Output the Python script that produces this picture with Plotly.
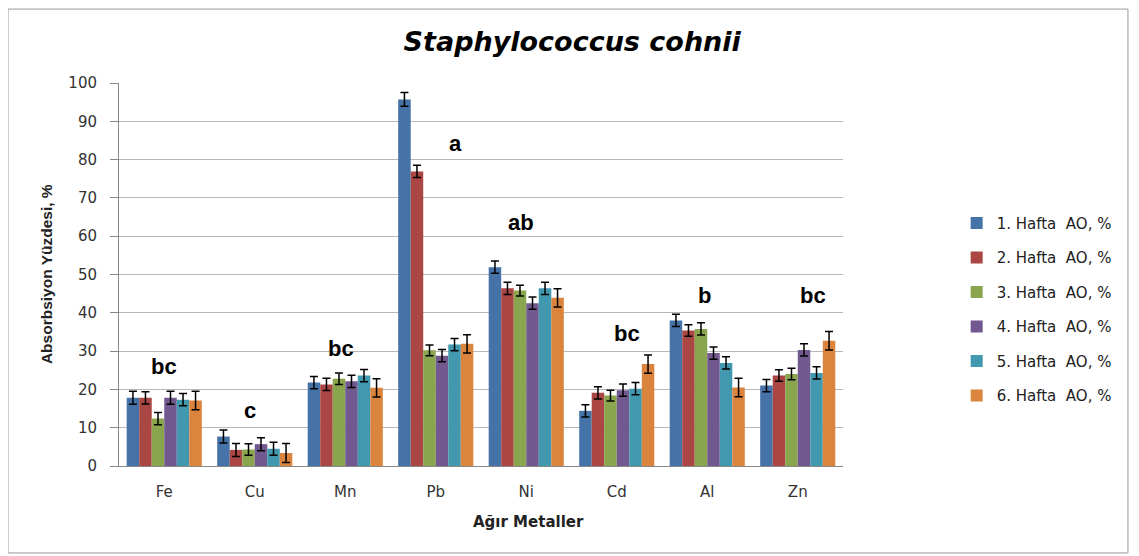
import plotly.graph_objects as go

categories = ["Fe", "Cu", "Mn", "Pb", "Ni", "Cd", "Al", "Zn"]
series_names = ["1. Hafta  AO, %", "2. Hafta  AO, %", "3. Hafta  AO, %",
                "4. Hafta  AO, %", "5. Hafta  AO, %", "6. Hafta  AO, %"]
week1 = [17.8, 7.7, 21.8, 95.7, 51.9, 14.4, 38.0, 21.0]
week2 = [17.8, 4.2, 21.3, 76.9, 46.4, 19.1, 35.4, 23.6]
week3 = [12.4, 4.3, 22.8, 30.2, 45.8, 18.4, 35.8, 24.0]
week4 = [17.8, 5.7, 22.1, 28.8, 42.5, 19.8, 29.5, 30.3]
week5 = [17.3, 4.5, 23.6, 31.7, 46.4, 20.2, 26.9, 24.3]
week6 = [17.1, 3.4, 20.4, 31.9, 43.9, 26.6, 20.5, 32.7]
err1 = [1.7, 1.7, 1.6, 1.8, 1.6, 1.6, 1.6, 1.6]
err2 = [1.6, 1.7, 1.6, 1.6, 1.6, 1.6, 1.5, 1.5]
err3 = [1.6, 1.5, 1.5, 1.4, 1.4, 1.4, 1.6, 1.5]
err4 = [1.7, 1.7, 1.6, 1.6, 1.6, 1.6, 1.6, 1.6]
err5 = [1.6, 1.7, 1.6, 1.6, 1.6, 1.6, 1.6, 1.6]
err6 = [2.4, 2.5, 2.4, 2.4, 2.4, 2.4, 2.4, 2.4]
colors = ["#4572A7", "#AA4643", "#89A54E", "#71588F", "#4198AF", "#DB843D"]

letters = ["bc", "c", "bc", "a", "ab", "bc", "b", "bc"]
letter_y = [26.1, 14.6, 30.8, 84.3, 63.7, 34.5, 44.4, 44.4]
letter_dx = [0, -5, -4, 20, -5, 10, -3, 15]

values = [week1, week2, week3, week4, week5, week6]
errors = [err1, err2, err3, err4, err5, err6]

fig = go.Figure()
for i, (name, vals, errs, col) in enumerate(zip(series_names, values, errors, colors)):
    fig.add_trace(go.Bar(
        x=categories, y=vals, name=name, legendgroup="g%d" % i,
        marker=dict(color=col, line=dict(width=0)),
        error_y=dict(type="data", array=errs, visible=True,
                     color="black", thickness=1.5, width=4),
    ))

for cat, txt, ly, dx in zip(categories, letters, letter_y, letter_dx):
    fig.add_annotation(x=cat, y=ly, text="<b>%s</b>" % txt, showarrow=False,
                       xshift=dx, font=dict(family="Liberation Sans, Arial", size=22, color="black"))

# axis titles
fig.add_annotation(xref="paper", yref="paper", x=0.565, y=-0.1454,
                   text="<b>Ağır Metaller</b>", showarrow=False,
                   xanchor="center", yanchor="middle",
                   font=dict(family="DejaVu Sans", size=15, color="#222222"))
fig.add_annotation(xref="paper", yref="paper", x=-0.1, y=0.5,
                   text="<b>Absorbsiyon Yüzdesi, %</b>", showarrow=False, textangle=-90,
                   xanchor="center", yanchor="middle",
                   font=dict(family="Liberation Sans, Arial", size=15.5, color="#222222"))

fig.update_layout(
    width=1139, height=556,
    margin=dict(l=111, r=304, t=75, b=98),
    paper_bgcolor="white", plot_bgcolor="white",
    barmode="group", bargap=0.17, bargroupgap=0,
    font=dict(family="DejaVu Sans, Verdana", size=15, color="#333333"),
    title=dict(text="<b><i>Staphylococcus cohnii</i></b>", x=0.626, xref="paper",
               xanchor="center", y=0.939, yref="container", yanchor="middle",
               font=dict(family="DejaVu Sans", size=27, color="black")),
    legend=dict(x=1.157, y=0.677, xanchor="left", yanchor="top",
                font=dict(family="DejaVu Sans, Verdana", size=15, color="#222222"),
                tracegroupgap=12, itemsizing="constant", bgcolor="rgba(0,0,0,0)"),
    xaxis=dict(showline=True, linecolor="#888888", linewidth=1, ticks="",
               ticklabelstandoff=12,
               tickfont=dict(size=15, color="#333333")),
    yaxis=dict(range=[0, 100], dtick=10, showline=True, linecolor="#888888", linewidth=1,
               ticks="outside", ticklen=8, tickcolor="#888888", ticklabelstandoff=10,
               showgrid=True, gridcolor="#B8B8B8", gridwidth=1.3, zeroline=False,
               tickfont=dict(size=15, color="#333333")),
    shapes=[dict(type="rect", xref="paper", yref="paper",
                 x0=-0.1533, x1=1.3936, y0=-0.227, y1=1.193,
                 line=dict(color="#999999", width=1))],
)

fig.write_html("out.html")
